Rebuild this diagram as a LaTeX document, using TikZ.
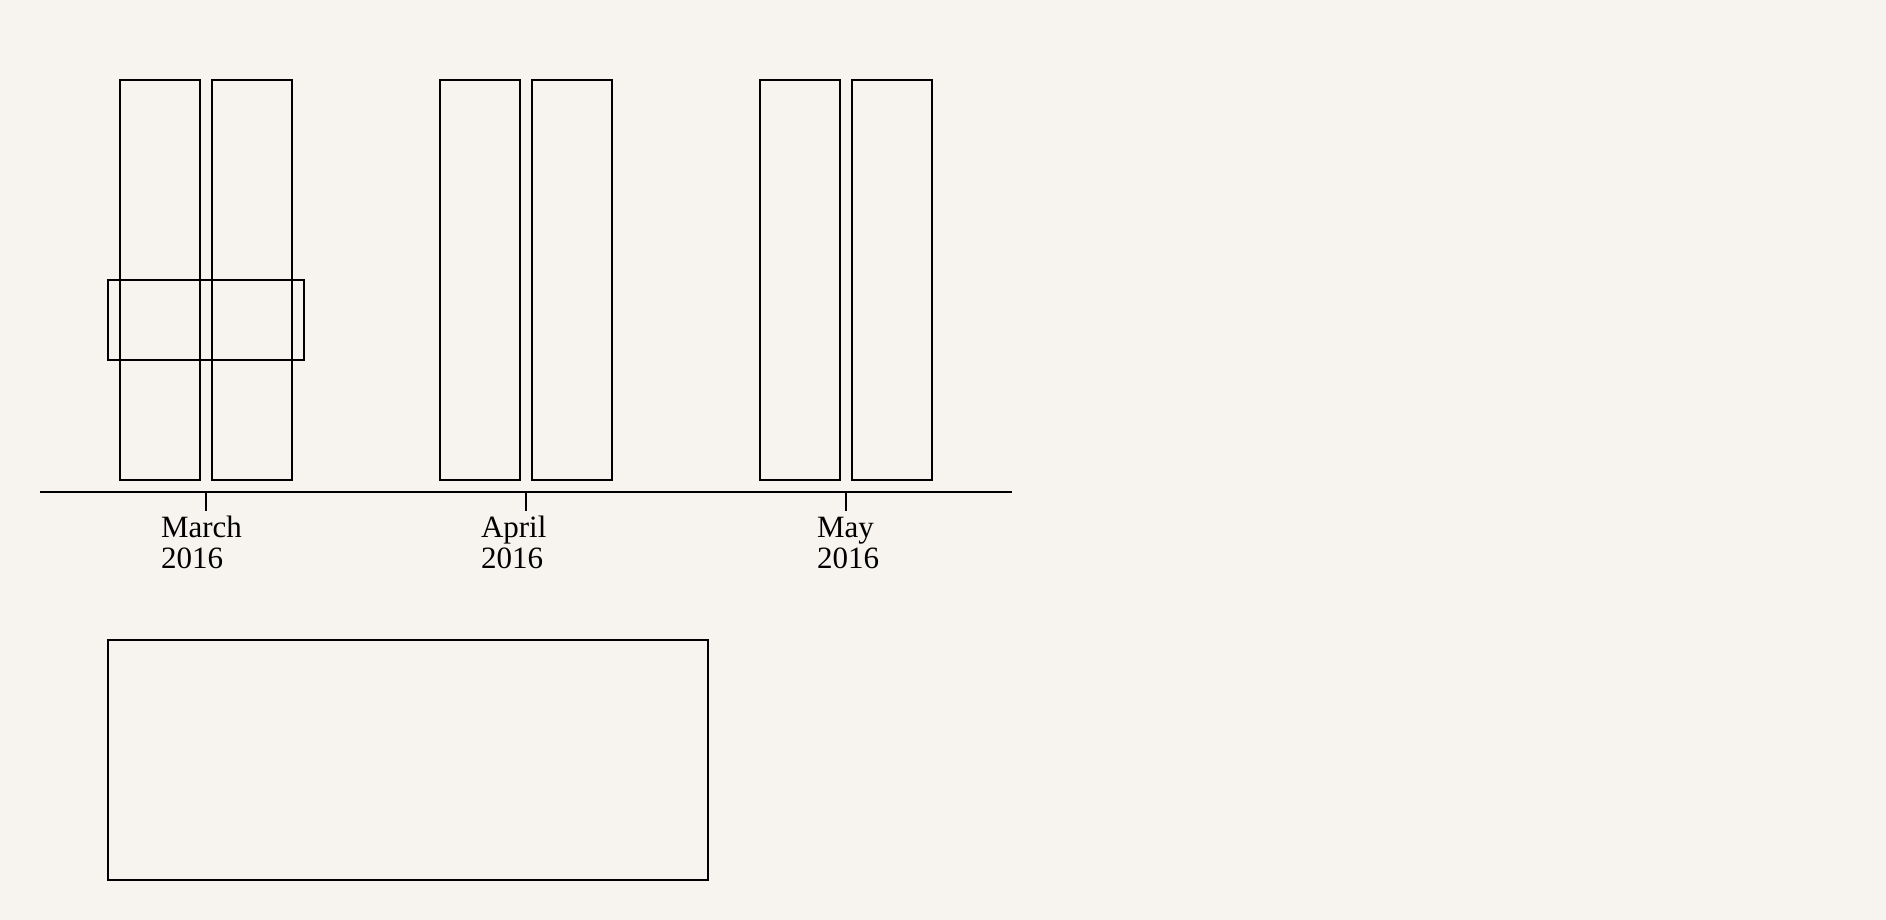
\documentclass[tikz,border=0pt]{standalone}
\usepackage{fontspec}
\setmainfont{Liberation Serif}
\usetikzlibrary{calc}
\definecolor{paper}{HTML}{F7F4EF}
\tikzset{
  bar/.style={draw,line width=2pt},
  month/.style={anchor=base west,align=left,inner sep=0pt,
    font=\fontsize{31}{31}\selectfont}
}

\begin{document}
\begin{tikzpicture}[x=1pt,y=-1pt,line width=2pt]
	\fill[paper](0,0)rectangle(1886,920);
	\useasboundingbox(0,0)rectangle(1886,920);
	% bars, two per month
	\draw[bar](120,80)rectangle(200,480);
	\draw[bar](212,80)rectangle(292,480);
	\draw[bar](440,80)rectangle(520,480);
	\draw[bar](532,80)rectangle(612,480);
	\draw[bar](760,80)rectangle(840,480);
	\draw[bar](852,80)rectangle(932,480);
	\draw[bar](108,280)rectangle(304,360);
	% time axis
	\coordinate(axisL)at(40,492);
	\coordinate(axisR)at(1012,492);
	\draw(axisL)--(axisR);
	\coordinate(t1)at(206,492);
	\coordinate(t2)at(526,492);
	\coordinate(t3)at(846,492);
	\draw(t1)--++(0,19);
	\draw(t2)--++(0,19);
	\draw(t3)--++(0,19);
	\node[month](march)at(160,568){March\\2016};
	\node[month](april)at(480,568){April\\2016};
	\node[month](may)at(816,568){May\\2016};
	% lower box
	\draw[bar](108,640)rectangle(708,880);
\end{tikzpicture}
\end{document}
